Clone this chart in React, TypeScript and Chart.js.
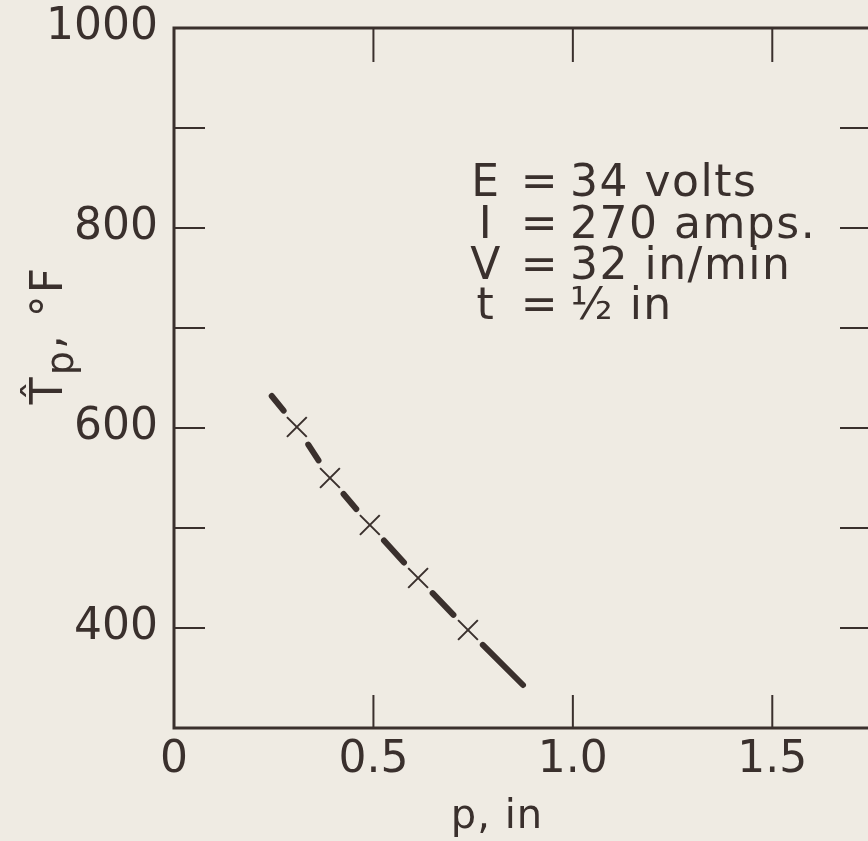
import React, { useEffect, useRef } from "react";
import { Chart, registerables } from "chart.js";

Chart.register(...registerables);

// ---- data ----
const measuredP = [0.308, 0.391, 0.491, 0.612, 0.737];
const measuredT = [601, 550, 503, 450, 398];
const curveStartP = 0.245;
const curveStartT = 632;
const curveEndP = 0.875;
const curveEndT = 343;

const xTickValues = [0, 0.5, 1.0, 1.5];
const xTickLabels = ["0", "0.5", "1.0", "1.5"];
const yLabelValues = [400, 600, 800, 1000];

const noteSymbols = ["E", "I", "V", "t"];
const noteValues = ["34 volts", "270 amps.", "32 in/min", "\u00BD in"];

const xTitle = "p, in";

const INK = "#3a302d";
const PAPER = "#efebe3";
const FONT = "'DejaVu Sans', sans-serif";

export default function App() {
  const ref = useRef<HTMLCanvasElement | null>(null);

  useEffect(() => {
    const canvas = ref.current;
    if (!canvas) return;

    const curveData = [
      { x: curveStartP, y: curveStartT },
      ...measuredP.map((p, i) => ({ x: p, y: measuredT[i] })),
      { x: curveEndP, y: curveEndT },
    ];
    const nSeg = curveData.length - 1;
    const GAP = 21;
    const BIG = 2000;
    const segDash = (ctx: any) => {
      const i = ctx.p0DataIndex;
      const L = Math.hypot(ctx.p1.x - ctx.p0.x, ctx.p1.y - ctx.p0.y);
      const gs = i === 0 ? 0 : GAP;
      const ge = i === nSeg - 1 ? 0 : GAP;
      const dash = Math.max(0.5, L - gs - ge);
      return { dash, gs };
    };

    const framePlugin = {
      id: "frame",
      afterDatasetsDraw(chart: any) {
        const c = chart.ctx;
        const { left, right, top, bottom } = chart.chartArea;
        const xs = chart.scales.x;
        const ys = chart.scales.y;
        c.save();
        c.strokeStyle = INK;
        c.fillStyle = INK;
        c.lineCap = "butt";
        c.lineWidth = 3;
        c.strokeRect(left, top, right - left, bottom - top);
        c.lineWidth = 2;
        const line = (x1: number, y1: number, x2: number, y2: number) => {
          c.beginPath();
          c.moveTo(x1, y1);
          c.lineTo(x2, y2);
          c.stroke();
        };
        ys.ticks.forEach((t: any) => {
          if (t.value <= ys.min || t.value >= ys.max) return;
          const y = ys.getPixelForValue(t.value);
          line(left, y, left + 31, y);
          line(right, y, right - 32, y);
        });
        xs.ticks.forEach((t: any) => {
          if (t.value <= xs.min || t.value >= xs.max) return;
          const x = xs.getPixelForValue(t.value);
          line(x, bottom, x, bottom - 33);
          line(x, top, x, top + 34);
        });

        // parameter block
        c.font = `44px ${FONT}`;
        (c as any).letterSpacing = "1.5px";
        c.textBaseline = "alphabetic";
        const rows = [196, 238, 279, 319];
        noteSymbols.forEach((s, i) => {
          c.textAlign = "center";
          c.fillText(s, 486, rows[i]);
          c.fillText("=", 540, rows[i]);
          c.textAlign = "left";
          c.fillText(noteValues[i], 570, rows[i]);
        });

        // x axis title
        (c as any).letterSpacing = "1px";
        c.font = `40px ${FONT}`;
        c.textAlign = "center";
        c.fillText(xTitle, 497, 828);

        // y axis title (rotated)
        c.translate(62, 335);
        c.rotate(-Math.PI / 2);
        (c as any).letterSpacing = "2px";
        const big = `44px ${FONT}`;
        const small = `38px ${FONT}`;
        const parts = [
          { t: "T\u0302", f: big, dy: 0 },
          { t: "p", f: small, dy: 11 },
          { t: ", \u00B0F", f: big, dy: 0 },
        ];
        let total = 0;
        const widths = parts.map((p) => {
          c.font = p.f;
          const w = c.measureText(p.t).width;
          total += w;
          return w;
        });
        let x = -total / 2;
        c.textAlign = "left";
        parts.forEach((p, i) => {
          c.font = p.f;
          c.fillText(p.t, x, p.dy);
          x += widths[i];
        });
        c.restore();
      },
    };

    const chart = new Chart(canvas, {
      type: "scatter",
      data: {
        datasets: [
          {
            type: "line",
            label: "fitted curve",
            data: curveData,
            borderColor: INK,
            borderWidth: 6,
            borderCapStyle: "round",
            pointRadius: 0,
            tension: 0,
            fill: false,
            segment: {
              borderDash: (ctx: any) => {
                const { dash } = segDash(ctx);
                return [dash, BIG + ctx.p0DataIndex];
              },
              borderDashOffset: (ctx: any) => {
                const { dash, gs } = segDash(ctx);
                return gs > 0 ? dash + BIG + ctx.p0DataIndex - gs : 0;
              },
            },
          } as any,
          {
            type: "scatter",
            label: "measured",
            data: measuredP.map((p, i) => ({ x: p, y: measuredT[i] })),
            pointStyle: "crossRot",
            pointRadius: 14,
            pointBorderWidth: 2,
            pointBorderColor: INK,
            pointBackgroundColor: INK,
          },
        ],
      },
      options: {
        animation: false,
        responsive: false,
        devicePixelRatio: 1,
        events: [],
        layout: { padding: { top: 28, right: 28, left: 0, bottom: 0 } },
        plugins: {
          legend: { display: false },
          tooltip: { enabled: false },
          title: { display: false },
        },
        scales: {
          x: {
            type: "linear",
            min: 0,
            max: 1.75,
            grid: { display: false, drawTicks: false },
            border: { display: false },
            afterFit: (s: any) => {
              s.height = 113;
              s.paddingLeft = 0;
              s.paddingRight = 0;
            },
            ticks: {
              stepSize: 0.5,
              includeBounds: false,
              autoSkip: false,
              maxRotation: 0,
              padding: 6,
              color: INK,
              font: { family: FONT, size: 44 },
              callback: (v: any) => {
                const i = xTickValues.findIndex((t) => Math.abs(t - Number(v)) < 1e-9);
                return i >= 0 ? xTickLabels[i] : "";
              },
            },
          },
          y: {
            type: "linear",
            min: 300,
            max: 1000,
            grid: { display: false, drawTicks: false },
            border: { display: false },
            afterFit: (s: any) => {
              s.width = 174;
              s.paddingTop = 0;
              s.paddingBottom = 0;
            },
            ticks: {
              stepSize: 100,
              autoSkip: false,
              padding: 16,
              color: INK,
              font: { family: FONT, size: 44 },
              callback: (v: any) => (yLabelValues.includes(Number(v)) ? String(v) : ""),
            },
          },
        },
      },
      plugins: [framePlugin],
    });

    return () => chart.destroy();
  }, []);

  return (
    <div
      style={{
        position: "fixed",
        left: 0,
        top: 0,
        width: 868,
        height: 841,
        overflow: "hidden",
        background: PAPER,
      }}
    >
      <canvas ref={ref} width={900} height={841} style={{ display: "block", width: 900, height: 841 }} />
    </div>
  );
}
